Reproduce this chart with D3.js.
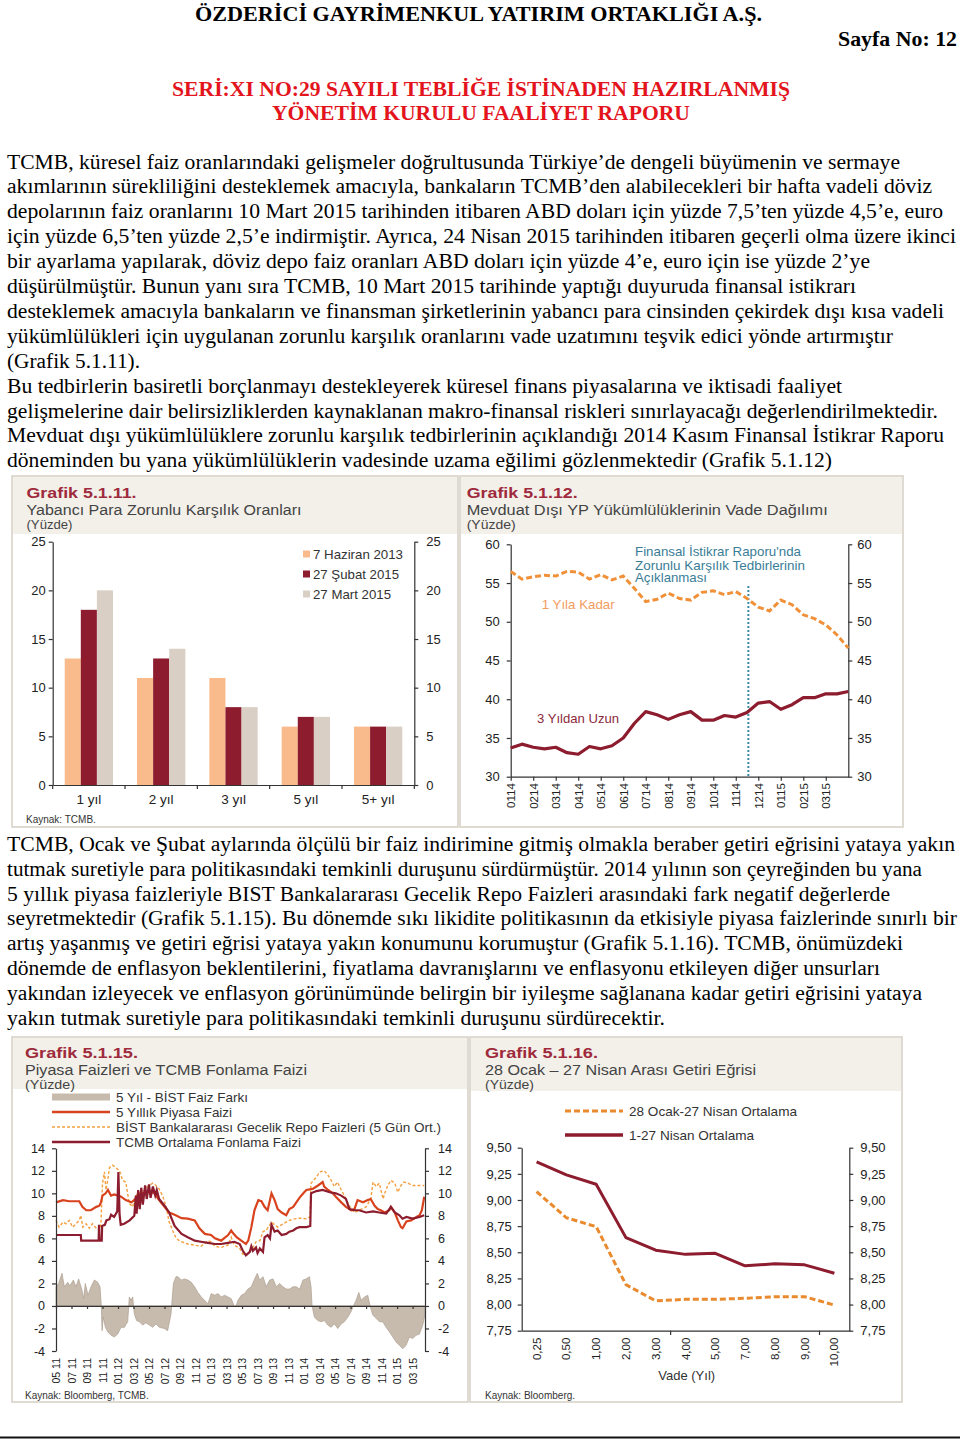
<!DOCTYPE html>
<html><head><meta charset="utf-8">
<script src="https://cdn.jsdelivr.net/npm/d3@7"></script>
<style>body{margin:0;background:#fff}svg{display:block}</style>
</head><body>
<svg id="page" width="960" height="1440"></svg>
<script>
// ---------------- DATA ----------------
// Grafik 5.1.11
const maturities = ["1 yıl","2 yıl","3 yıl","5 yıl","5+ yıl"];
const reserveDates = ["7 Haziran 2013","27 Şubat 2015","27 Mart 2015"];
const reserveJun2013 = [13,11,11,6,6];
const reserveFeb2015 = [18,13,8,7,6];
const reserveMar2015 = [20,14,8,7,6];
const reserveTicks = [0,5,10,15,20,25];

// Grafik 5.1.12 (months since Jan 2014)
const months12 = [0,0.5,1,1.5,2,2.5,3,3.5,4,4.5,5,5.5,6,6.5,7,7.5,8,8.5,9,9.5,10,10.5,11,11.5,12,12.5,13,13.5,14,14.5,15];
const upTo1Year = [56.5,55.5,55.8,56.0,55.9,56.5,56.4,55.5,56.1,55.4,55.9,54.3,52.6,52.9,53.7,53.0,52.8,53.8,54.0,53.5,53.9,53.0,51.9,51.4,52.8,52.2,50.9,50.4,49.6,48.3,46.6];
const over3Years = [33.7,34.2,33.8,33.6,33.8,33.1,32.9,33.9,33.6,34.0,35.0,36.9,38.4,38.0,37.4,38.0,38.4,37.3,37.3,37.9,37.7,38.3,39.5,39.7,38.7,39.3,40.2,40.2,40.7,40.7,41.0];
const monthTicks12 = [0,1,2,3,4,5,6,7,8,9,10,11,12,13,14];
const monthLabels12 = ["0114","0214","0314","0414","0514","0614","0714","0814","0914","1014","1114","1214","0115","0215","0315"];
const firMonth = 10.56;
const ticks12 = [30,35,40,45,50,55,60];

// Grafik 5.1.15 ([months since May 2011, value])
const spread5yBist = [[0,1.7],[0.34,2.0],[0.77,2.9],[1.08,1.7],[1.5,2.1],[1.8,1.8],[2.24,2.3],[2.58,1.7],[2.92,2.4],[3.35,1.4],[3.57,0.65],[3.78,2.0],[4.13,0.95],[4.52,1.7],[4.95,2.3],[5.38,2.1],[5.68,1.7],[5.85,-0.1],[5.94,-2.2],[6.1,-1.0],[6.37,-1.9],[6.67,-2.3],[7.1,-2.6],[7.53,-2.75],[7.96,-2.5],[8.39,-1.9],[8.82,-1.9],[9.25,-1.4],[9.46,0.8],[9.68,0.5],[9.89,0.8],[10.1,-0.7],[10.4,-1.3],[10.75,-1.4],[11.18,-1.7],[11.6,-1.5],[12.04,-1.7],[12.47,-1.9],[12.9,-1.6],[13.33,-1.9],[13.98,-2.0],[14.4,-2.2],[14.84,-0.7],[15.14,2.0],[15.48,2.6],[15.73,2.6],[16.16,2.3],[16.59,2.4],[17.02,2.3],[17.45,2.1],[17.88,1.7],[18.31,1.2],[18.74,0.8],[19.17,0.5],[19.6,0.2],[20.03,1.1],[20.46,0.95],[20.9,1.1],[21.32,0.8],[21.75,0.95],[22.18,0.8],[22.6,0.65],[22.96,0.05],[23.17,-0.1],[23.47,0.5],[23.9,0.95],[24.33,1.1],[24.76,1.5],[25.19,1.7],[25.62,2.4],[25.97,2.9],[26.27,2.3],[26.7,2.6],[27.13,1.7],[27.56,2.3],[27.99,2.4],[28.42,1.7],[28.85,2.0],[29.28,1.7],[29.71,1.5],[30.14,1.5],[30.57,1.7],[31.0,1.7],[31.43,1.5],[31.86,2.3],[32.26,2.4],[32.69,2.6],[32.9,1.7],[33.03,0],[33.34,-1.0],[33.77,-1.3],[34.2,-1.4],[34.63,-1.3],[35.06,-1.7],[35.49,-1.9],[35.92,-1.6],[36.35,-2.0],[36.78,-1.6],[37.2,-1.4],[37.64,-1.0],[38.07,-0.5],[38.37,0],[38.71,0.5],[39.06,1.2],[39.36,0.5],[39.79,0.8],[40.22,0.95],[40.52,0],[40.86,-0.8],[41.29,-1.1],[41.72,-1.4],[42.15,-1.4],[42.58,-1.9],[43.01,-2.3],[43.44,-2.75],[43.87,-3.2],[44.3,-3.5],[44.73,-3.8],[45.16,-3.5],[45.59,-2.75],[46.02,-2.9],[46.45,-2.6],[46.88,-2.5],[47.31,-1.7],[47.53,-1.0]];
const rate5y = [[0,9.2],[0.9,9.4],[1.7,9.3],[3.0,9.3],[3.4,8.8],[3.9,8.5],[4.5,8.5],[5.2,8.8],[5.6,8.9],[5.8,9.2],[6.0,9.8],[6.4,10.0],[6.7,10.3],[7.1,9.8],[7.5,9.9],[8.0,9.8],[8.4,9.7],[9.0,9.4],[9.7,9.2],[10.1,9.4],[10.5,9.7],[11.2,10.0],[12.0,10.2],[12.7,10.0],[13.3,9.4],[14.0,8.8],[14.6,8.3],[15.3,8.1],[16.2,7.8],[17.0,7.75],[17.9,7.6],[18.5,6.9],[19.2,6.4],[20.0,6.3],[20.5,6.0],[21.3,5.8],[22.2,6.3],[22.6,6.7],[22.8,6.5],[23.3,6.1],[23.9,5.8],[24.5,5.5],[24.8,5.8],[25.2,7.0],[25.6,8.5],[26.1,9.4],[26.5,9.3],[26.9,8.8],[27.3,8.5],[27.8,10.0],[28.2,9.4],[28.6,8.6],[29.1,8.3],[29.7,8.05],[30.1,8.6],[30.6,8.8],[31.0,9.2],[31.4,9.6],[31.9,10.0],[32.3,10.3],[33.1,10.4],[33.8,10.7],[34.4,11.0],[34.6,10.6],[35.1,10.3],[35.7,10.0],[36.1,9.7],[36.8,9.2],[37.4,8.8],[38.1,8.5],[38.5,8.6],[38.9,9.4],[39.6,9.2],[40.2,9.4],[40.6,9.5],[41.1,8.9],[41.5,8.6],[41.9,8.5],[42.4,8.3],[43.0,8.5],[43.2,8.8],[43.7,8.3],[44.1,7.6],[44.5,7.0],[44.7,6.9],[45.2,7.5],[45.8,7.6],[46.5,7.9],[46.9,8.05],[47.2,8.5],[47.5,9.7]];
const bistRepo = [[0,7.6],[0.4,7.0],[0.9,7.45],[1.3,7.3],[1.7,7.6],[2.15,7.0],[2.6,7.3],[3.0,7.6],[3.2,8.05],[3.45,7.0],[3.9,7.3],[4.3,6.9],[4.7,7.3],[5.2,6.9],[5.6,6.7],[5.8,7.3],[6.0,10.9],[6.25,11.9],[6.45,10.3],[6.7,11.3],[6.9,12.3],[7.3,12.5],[7.7,12.3],[8.2,12.0],[8.6,11.15],[9.0,11.0],[9.45,9.1],[9.9,8.8],[10.1,9.5],[10.5,10.0],[11.0,10.1],[11.4,10.3],[12.0,10.7],[12.5,10.9],[12.9,10.7],[13.3,10.4],[13.8,9.7],[14.2,8.8],[14.6,7.45],[15.05,6.7],[15.5,6.0],[15.9,5.8],[16.2,5.7],[17.0,5.5],[17.9,5.4],[18.7,5.3],[19.6,5.8],[20.0,5.7],[20.5,5.3],[21.3,5.2],[22.2,5.4],[22.6,6.1],[23.0,5.4],[23.7,5.1],[24.1,4.6],[24.5,4.5],[25.0,4.8],[25.4,5.2],[25.8,5.7],[26.3,5.8],[26.7,6.6],[27.1,6.7],[27.8,7.45],[28.2,7.2],[28.6,7.0],[29.1,7.2],[29.7,7.45],[30.1,7.6],[30.6,7.7],[31.0,7.75],[31.4,7.8],[32.3,7.75],[32.75,7.9],[32.9,10.9],[33.6,11.45],[34.0,11.9],[34.6,12.0],[35.1,11.6],[35.5,11.15],[35.9,10.6],[36.3,11.0],[36.8,10.3],[37.2,9.8],[37.6,9.2],[38.1,8.6],[38.5,8.3],[39.1,8.5],[40.0,8.8],[40.6,9.5],[40.9,11.0],[41.3,10.6],[41.7,10.9],[42.2,9.5],[42.4,10.0],[42.8,10.7],[43.2,11.15],[43.7,10.9],[44.1,10.1],[44.5,10.7],[44.9,11.0],[45.4,10.9],[46.0,10.7],[46.7,10.7],[47.5,10.7]];
const tcmbFunding = [[0,6.3],[3.2,6.3],[3.25,5.8],[5.5,5.8],[5.55,7.2],[5.62,5.8],[5.9,5.8],[5.95,7.1],[6.3,7.2],[6.5,7.6],[6.9,7.7],[7.1,8.1],[7.5,7.9],[7.9,8.4],[8.05,11.9],[8.2,8.1],[8.35,7.2],[8.8,7.3],[9.5,7.6],[10.1,8.0],[10.3,9.8],[10.4,8.2],[10.6,10.3],[10.8,8.6],[11.0,10.5],[11.2,9.0],[11.5,10.7],[11.7,9.5],[12.0,10.8],[12.2,9.6],[12.5,10.6],[12.8,9.8],[13.0,10.3],[13.3,9.5],[14.0,8.9],[14.6,8.3],[15.3,7.1],[16.2,6.4],[17.0,6.1],[17.9,5.8],[18.7,5.7],[19.6,5.6],[20.5,5.5],[21.3,5.5],[22.2,5.6],[23.0,5.7],[23.7,5.5],[24.1,4.9],[24.5,4.5],[25.0,4.8],[25.2,5.3],[25.4,4.9],[25.8,5.2],[26.0,4.7],[26.3,5.1],[26.7,4.8],[26.9,6.1],[27.3,6.3],[27.6,6.0],[27.8,7.2],[28.2,6.6],[28.6,6.7],[29.1,6.3],[29.7,6.4],[30.1,6.6],[30.6,6.7],[31.0,6.9],[31.4,7.0],[31.9,7.0],[32.3,7.0],[32.8,7.1],[32.9,10.0],[33.6,10.2],[34.4,10.3],[35.3,10.1],[36.1,10.0],[36.8,9.8],[37.4,9.5],[37.85,8.6],[38.5,8.5],[39.1,8.5],[40.0,8.3],[40.9,8.4],[41.7,8.3],[42.6,8.2],[43.2,8.8],[43.7,8.3],[44.3,8.05],[44.7,7.75],[45.2,7.9],[46.0,7.75],[46.9,7.9],[47.5,8.05]];
const dateTicks15 = [0,2,4,6,8,10,12,14,16,18,20,22,24,26,28,30,32,34,36,38,40,42,44,46];
const dateLabels15 = ["05 11","07 11","09 11","11 11","01 12","03 12","05 12","07 12","09 12","11 12","01 13","03 13","05 13","07 13","09 13","11 13","01 14","03 14","05 14","07 14","09 14","11 14","01 15","03 15"];
const ticks15 = [-4,-2,0,2,4,6,8,10,12,14];

// Grafik 5.1.16
const tenors = ["0,25","0,50","1,00","2,00","3,00","4,00","5,00","7,00","8,00","9,00","10,00"];
const yieldJanApr = [9.08,8.83,8.745,8.19,8.035,8.05,8.05,8.06,8.075,8.075,7.995];
const yieldApr = [9.365,9.24,9.15,8.64,8.52,8.48,8.49,8.37,8.39,8.38,8.30];
const ticks16 = [7.75,8.00,8.25,8.50,8.75,9.00,9.25,9.50];

// ---------------- DRAWING ----------------
const SERIF = "'Liberation Serif','Times New Roman',serif";
const CF = "'Liberation Sans',Arial,sans-serif";
const svg = d3.select('#page');
svg.append('rect').attr('width',960).attr('height',1440).attr('fill','#fff');

function txt(g,x,y,s,o={}){
  const t=g.append('text').attr('x',x).attr('y',y).text(s)
    .attr('font-family',o.ff||CF).attr('font-size',o.fs||12).attr('fill',o.fill||'#333');
  if(o.fw) t.attr('font-weight',o.fw);
  if(o.anchor) t.attr('text-anchor',o.anchor);
  if(o.w) t.attr('textLength',o.w).attr('lengthAdjust','spacingAndGlyphs');
  return t;
}
const plain = d => String(d);

// Header
txt(svg,195,21,"ÖZDERİCİ GAYRİMENKUL YATIRIM ORTAKLIĞI A.Ş.",{ff:SERIF,fs:21,fw:'bold',fill:'#000',w:567});
txt(svg,838,46,"Sayfa No: 12",{ff:SERIF,fs:21,fw:'bold',fill:'#000',w:119});
txt(svg,172,96,"SERİ:XI NO:29 SAYILI TEBLİĞE İSTİNADEN HAZIRLANMIŞ",{ff:SERIF,fs:21,fw:'bold',fill:'#e3141c',w:618});
txt(svg,272,120,"YÖNETİM KURULU FAALİYET RAPORU",{ff:SERIF,fs:21,fw:'bold',fill:'#e3141c',w:418});

// Body text
const para1 = [
 ["TCMB, küresel faiz oranlarındaki gelişmeler doğrultusunda Türkiye’de dengeli büyümenin ve sermaye",900],
 ["akımlarının sürekliliğini desteklemek amacıyla, bankaların TCMB’den alabilecekleri bir hafta vadeli döviz",932],
 ["depolarının faiz oranlarını 10 Mart 2015 tarihinden itibaren ABD doları için yüzde 7,5’ten yüzde 4,5’e, euro",943],
 ["için yüzde 6,5’ten yüzde 2,5’e indirmiştir. Ayrıca, 24 Nisan 2015 tarihinden itibaren geçerli olma üzere ikinci",956],
 ["bir ayarlama yapılarak, döviz depo faiz oranları ABD doları için yüzde 4’e, euro için ise yüzde 2’ye",870],
 ["düşürülmüştür. Bunun yanı sıra TCMB, 10 Mart 2015 tarihinde yaptığı duyuruda finansal istikrarı",856],
 ["desteklemek amacıyla bankaların ve finansman şirketlerinin yabancı para cinsinden çekirdek dışı kısa vadeli",944],
 ["yükümlülükleri için uygulanan zorunlu karşılık oranlarını vade uzatımını teşvik edici yönde artırmıştır",893],
 ["(Grafik 5.1.11).",140],
 ["Bu tedbirlerin basiretli borçlanmayı destekleyerek küresel finans piyasalarına ve iktisadi faaliyet",842],
 ["gelişmelerine dair belirsizliklerden kaynaklanan makro-finansal riskleri sınırlayacağı değerlendirilmektedir.",938],
 ["Mevduat dışı yükümlülüklere zorunlu karşılık tedbirlerinin açıklandığı 2014 Kasım Finansal İstikrar Raporu",944],
 ["döneminden bu yana yükümlülüklerin vadesinde uzama eğilimi gözlenmektedir (Grafik 5.1.12)",832]
];
para1.forEach((l,i)=>txt(svg,7,168.5+i*24.9,l[0],{ff:SERIF,fs:20.5,fill:'#000',w:l[1]-7}));
const para2 = [
 ["TCMB, Ocak ve Şubat aylarında ölçülü bir faiz indirimine gitmiş olmakla beraber getiri eğrisini yataya yakın",955],
 ["tutmak suretiyle para politikasındaki temkinli duruşunu sürdürmüştür. 2014 yılının son çeyreğinden bu yana",922],
 ["5 yıllık piyasa faizleriyle BIST Bankalararası Gecelik Repo Faizleri arasındaki fark negatif değerlerde",890],
 ["seyretmektedir (Grafik 5.1.15). Bu dönemde sıkı likidite politikasının da etkisiyle piyasa faizlerinde sınırlı bir",957],
 ["artış yaşanmış ve getiri eğrisi yataya yakın konumunu korumuştur (Grafik 5.1.16). TCMB, önümüzdeki",903],
 ["dönemde de enflasyon beklentilerini, fiyatlama davranışlarını ve enflasyonu etkileyen diğer unsurları",880],
 ["yakından izleyecek ve enflasyon görünümünde belirgin bir iyileşme sağlanana kadar getiri eğrisini yataya",922],
 ["yakın tutmak suretiyle para politikasındaki temkinli duruşunu sürdürecektir.",665]
];
para2.forEach((l,i)=>txt(svg,7,851+i*24.8,l[0],{ff:SERIF,fs:20.5,fill:'#000',w:l[1]-7}));

svg.append('line').attr('x1',0).attr('x2',960).attr('y1',1437.5).attr('y2',1437.5).attr('stroke','#111').attr('stroke-width',2);

function panel(x,y,w,h,hh){
  svg.append('rect').attr('x',x).attr('y',y).attr('width',w).attr('height',h).attr('fill','#fff').attr('stroke','#d8d2c8').attr('stroke-width',1.6);
  svg.append('rect').attr('x',x+1).attr('y',y+1).attr('width',w-2).attr('height',hh).attr('fill','#f3f0ea');
}
function titles(x,y0,t1,w1,t2,w2,w3){
  txt(svg,x,y0,t1,{fs:15.5,fw:'bold',fill:'#9e2a3c',w:w1});
  txt(svg,x,y0+16.5,t2,{fs:14,fill:'#444',w:w2});
  txt(svg,x,y0+31,"(Yüzde)",{fs:12,fill:'#444',w:w3});
}
function styleAxis(sel,fs){
  sel.attr('font-family',CF).attr('font-size',fs||13);
  sel.selectAll('.domain,.tick line').attr('stroke','#333').attr('stroke-width',1.2);
  sel.selectAll('.tick text').attr('fill','#222');
}

// ---------- Grafik 5.1.11 ----------
panel(12,476,446,351,57);
titles(26.5,498,"Grafik 5.1.11.",110,"Yabancı Para Zorunlu Karşılık Oranları",275,46);
const g11 = svg.append('g');
const x11 = d3.scaleBand().domain(maturities).range([52.7,414.3]).paddingInner(0.332).paddingOuter(0.166);
const s11 = d3.scaleBand().domain(reserveDates).range([0,x11.bandwidth()]);
const y11 = d3.scaleLinear().domain([0,25]).range([785,541.7]);
const col11 = d3.scaleOrdinal().domain(reserveDates).range(['#f9bb8c','#8c1c2e','#d9cfc5']);
const series11 = [reserveJun2013,reserveFeb2015,reserveMar2015];
reserveDates.forEach((s,i)=>{
  g11.append('g').selectAll('rect').data(maturities).join('rect')
    .attr('x',c=>x11(c)+s11(s)).attr('width',s11.bandwidth())
    .attr('y',(c,j)=>y11(series11[i][j])).attr('height',(c,j)=>y11(0)-y11(series11[i][j]))
    .attr('fill',col11(s));
});
g11.append('g').attr('transform','translate(52.7,0)')
  .call(d3.axisLeft(y11).tickValues(reserveTicks).tickFormat(plain).tickSize(4).tickSizeOuter(0).tickPadding(3)).call(styleAxis);
g11.append('g').attr('transform','translate(414.3,0)')
  .call(d3.axisRight(y11).tickValues(reserveTicks).tickFormat(plain).tickSize(4).tickSizeOuter(0).tickPadding(8)).call(styleAxis);
g11.append('g').attr('transform','translate(0,785)')
  .call(d3.axisBottom(x11).tickSize(0).tickPadding(9).tickSizeOuter(0)).call(g=>styleAxis(g,13.5));
d3.range(maturities.length+1).forEach(i=>{
  const xx = x11.range()[0]+i*x11.step();
  g11.append('line').attr('x1',xx).attr('x2',xx).attr('y1',785).attr('y2',789).attr('stroke','#333').attr('stroke-width',1.2);
});
reserveDates.forEach((s,i)=>{
  g11.append('rect').attr('x',303).attr('y',550.5+i*20).attr('width',7).attr('height',7).attr('fill',col11(s));
  txt(g11,313,558.5+i*20,s,{fs:13.5,fill:'#333',w:[90,86,78][i]});
});
txt(svg,26,823,"Kaynak: TCMB.",{fs:10,fill:'#333'});

// ---------- Grafik 5.1.12 ----------
panel(460,476,443,351,57);
titles(466.7,498,"Grafik 5.1.12.",111,"Mevduat Dışı YP Yükümlülüklerinin Vade Dağılımı",361,49);
const g12 = svg.append('g');
const x12 = d3.scaleLinear().domain([0,15]).range([510.7,848.3]);
const y12 = d3.scaleLinear().domain([30,60]).range([776.7,544.3]);
g12.append('g').attr('transform','translate(510.7,0)')
  .call(d3.axisLeft(y12).tickValues(ticks12).tickFormat(plain).tickSize(4).tickSizeOuter(0).tickPadding(7)).call(styleAxis);
g12.append('g').attr('transform','translate(848.3,0)')
  .call(d3.axisRight(y12).tickValues(ticks12).tickFormat(plain).tickSize(4).tickSizeOuter(0).tickPadding(5)).call(styleAxis);
g12.append('g').attr('transform','translate(0,776.7)')
  .call(d3.axisBottom(x12).tickValues(monthTicks12).tickFormat((d,i)=>monthLabels12[i]).tickSize(4).tickSizeOuter(0))
  .call(g=>styleAxis(g,11.5))
  .call(g=>g.selectAll('.tick text').attr('transform','rotate(-90)').attr('text-anchor','end').attr('x',-6.5).attr('y',0).attr('dy','0.35em'));
g12.append('line').attr('x1',x12(firMonth)).attr('x2',x12(firMonth)).attr('y1',586).attr('y2',776.7)
  .attr('stroke','#3b8ca6').attr('stroke-width',2).attr('stroke-dasharray','2,2');
const line12 = d3.line().x((d,i)=>x12(months12[i])).y(d=>y12(d));
g12.append('path').datum(upTo1Year).attr('d',line12).attr('fill','none').attr('stroke','#f0913a').attr('stroke-width',3).attr('stroke-dasharray','6,3');
g12.append('path').datum(over3Years).attr('d',line12).attr('fill','none').attr('stroke','#8c1c2e').attr('stroke-width',3.2).attr('stroke-linejoin','round');
txt(g12,635,556,"Finansal İstikrar Raporu'nda",{fs:13,fill:'#3a7d97',w:166});
txt(g12,635,569.5,"Zorunlu Karşılık Tedbirlerinin",{fs:13,fill:'#3a7d97',w:170});
txt(g12,635,582,"Açıklanması",{fs:13,fill:'#3a7d97',w:72});
txt(g12,541.7,609,"1 Yıla Kadar",{fs:13,fill:'#f29c5e',w:73});
txt(g12,537,723,"3 Yıldan Uzun",{fs:13,fill:'#8c2a3c',w:82});

// ---------- Grafik 5.1.15 ----------
panel(12,1037,456,365,51);
titles(25,1058,"Grafik 5.1.15.",113,"Piyasa Faizleri ve TCMB Fonlama Faizi",282,50);
const g15 = svg.append('g');
const x15 = d3.scaleLinear().domain([0,47.6]).range([56,425]);
const y15 = d3.scaleLinear().domain([-4,14]).range([1351,1148.3]);
const area15 = d3.area().x(d=>x15(d[0])).y0(y15(0)).y1(d=>y15(d[1]));
const line15 = d3.line().x(d=>x15(d[0])).y(d=>y15(d[1]));
g15.append('path').datum(spread5yBist).attr('d',area15).attr('fill','#c7bbae').attr('stroke','#ae9f90').attr('stroke-width',0.7);
g15.append('path').datum(bistRepo).attr('d',line15).attr('fill','none').attr('stroke','#f4a041').attr('stroke-width',1.4).attr('stroke-dasharray','3,2');
g15.append('path').datum(rate5y).attr('d',line15).attr('fill','none').attr('stroke','#d8431e').attr('stroke-width',2.2);
g15.append('path').datum(tcmbFunding).attr('d',line15).attr('fill','none').attr('stroke','#8c1c2e').attr('stroke-width',2.2);
g15.append('g').attr('transform','translate(56,0)')
  .call(d3.axisLeft(y15).tickValues(ticks15).tickFormat(plain).tickSize(4).tickSizeOuter(0).tickPadding(7)).call(g=>styleAxis(g,12.5));
g15.append('g').attr('transform','translate(425,0)')
  .call(d3.axisRight(y15).tickValues(ticks15).tickFormat(plain).tickSize(4).tickSizeOuter(0).tickPadding(9)).call(g=>styleAxis(g,12.5));
g15.append('g').attr('transform',`translate(0,${y15(0)})`)
  .call(d3.axisBottom(x15).tickValues(dateTicks15).tickFormat('').tickSize(3).tickSizeOuter(0)).call(styleAxis);
g15.append('g').attr('transform','translate(0,1351)')
  .call(d3.axisBottom(x15).tickValues(dateTicks15).tickFormat((d,i)=>dateLabels15[i]).tickSize(0).tickSizeOuter(0))
  .call(g=>styleAxis(g,10.5))
  .call(g=>g.select('.domain').remove())
  .call(g=>g.selectAll('.tick text').attr('transform','rotate(-90)').attr('text-anchor','end').attr('x',-7).attr('y',0).attr('dy','0.35em'));
const leg15 = ["5 Yıl - BİST Faiz Farkı","5 Yıllık Piyasa Faizi","BİST Bankalararası Gecelik Repo Faizleri (5 Gün Ort.)","TCMB Ortalama Fonlama Faizi"];
const legW15 = [132,116,325,185];
leg15.forEach((s,i)=>{
  const yy = 1097+i*15;
  if(i===0) g15.append('rect').attr('x',52).attr('y',yy-3.5).attr('width',58).attr('height',7).attr('fill','#c7bbae');
  else g15.append('line').attr('x1',52).attr('x2',110).attr('y1',yy).attr('y2',yy)
    .attr('stroke',['', '#d8431e','#f4a041','#8c1c2e'][i]).attr('stroke-width',i===2?1.5:2.6)
    .attr('stroke-dasharray',i===2?'3,2':null);
  txt(g15,116,yy+4.5,s,{fs:13,fill:'#333',w:legW15[i]});
});
txt(svg,25,1399,"Kaynak: Bloomberg, TCMB.",{fs:10,fill:'#333'});

// ---------- Grafik 5.1.16 ----------
panel(470,1037,432,365,53);
titles(485,1058,"Grafik 5.1.16.",113,"28 Ocak – 27 Nisan Arası Getiri Eğrisi",271,49);
const g16 = svg.append('g');
const x16 = d3.scaleBand().domain(tenors).range([521.7,849.3]);
const y16 = d3.scaleLinear().domain([7.75,9.5]).range([1330.7,1147.7]);
const fmt16 = d => d3.format('.2f')(d).replace('.',',');
g16.append('g').attr('transform','translate(521.7,0)')
  .call(d3.axisLeft(y16).tickValues(ticks16).tickFormat(fmt16).tickSize(4).tickSizeOuter(0).tickPadding(6)).call(g=>styleAxis(g,13));
g16.append('g').attr('transform','translate(849.3,0)')
  .call(d3.axisRight(y16).tickValues(ticks16).tickFormat(fmt16).tickSize(4).tickSizeOuter(0).tickPadding(7)).call(g=>styleAxis(g,13));
g16.append('g').attr('transform','translate(0,1330.7)')
  .call(d3.axisBottom(x16).tickSize(0).tickSizeOuter(0))
  .call(g=>styleAxis(g,11.5))
  .call(g=>g.selectAll('.tick text').attr('transform','rotate(-90)').attr('text-anchor','end').attr('x',-7).attr('y',0).attr('dy','0.35em'));
[5,10].forEach(k=>{
  const xx = x16.range()[0]+k*x16.step();
  g16.append('line').attr('x1',xx).attr('x2',xx).attr('y1',1330.7).attr('y2',1335).attr('stroke','#333').attr('stroke-width',1.2);
});
const line16 = d3.line().x((d,i)=>x16(tenors[i])+x16.bandwidth()/2).y(d=>y16(d));
g16.append('path').datum(yieldJanApr).attr('d',line16).attr('fill','none').attr('stroke','#e98a2e').attr('stroke-width',3).attr('stroke-dasharray','6,3');
g16.append('path').datum(yieldApr).attr('d',line16).attr('fill','none').attr('stroke','#8c1c2e').attr('stroke-width',3).attr('stroke-linejoin','round');
g16.append('line').attr('x1',565).attr('x2',623).attr('y1',1111).attr('y2',1111).attr('stroke','#e98a2e').attr('stroke-width',3).attr('stroke-dasharray','6,3');
txt(g16,629,1115.5,"28 Ocak-27 Nisan Ortalama",{fs:13.5,fill:'#333',w:168});
g16.append('line').attr('x1',565).attr('x2',623).attr('y1',1135).attr('y2',1135).attr('stroke','#8c1c2e').attr('stroke-width',3.5);
txt(g16,629,1139.5,"1-27 Nisan Ortalama",{fs:13.5,fill:'#333',w:125});
txt(g16,686.7,1380,"Vade (Yıl)",{fs:13,fill:'#333',anchor:'middle'});
txt(svg,485,1399,"Kaynak: Bloomberg.",{fs:10,fill:'#333'});
</script></body></html>
